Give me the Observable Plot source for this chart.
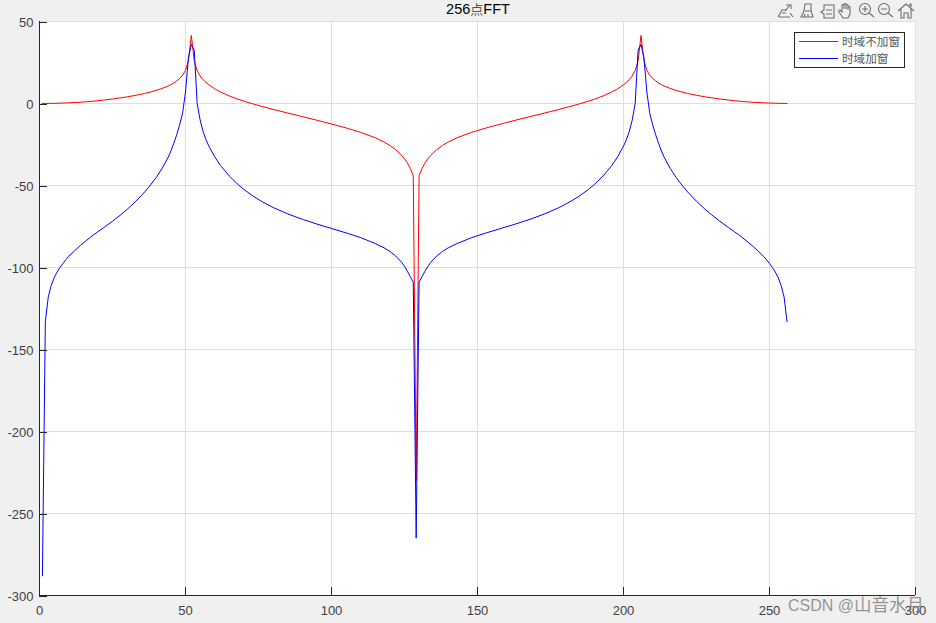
<!DOCTYPE html>
<html lang="zh">
<head>
<meta charset="utf-8">
<script src="https://cdn.jsdelivr.net/npm/d3@7"></script>
<script src="https://cdn.jsdelivr.net/npm/@observablehq/plot@0.6"></script>
<style>
html,body{margin:0;padding:0;background:#f0f0f0;width:936px;height:623px;overflow:hidden}
#wrap{position:relative;width:936px;height:623px}
#wrap svg.plot{position:absolute;left:0;top:0;background:transparent;display:block}
#title{position:absolute;left:378px;width:200px;top:0;text-align:center;font:14.5px/18px "Liberation Sans","Noto Sans CJK SC",sans-serif;color:#000}
#title span{color:#555;font-size:13px}
#legend{position:absolute;left:794px;top:32px;width:109px;height:34px;border:1px solid #262626;background:#fff}
.row{position:absolute;left:4px;height:17px;font:11.6px/17px "Noto Sans CJK SC",sans-serif;color:#555;white-space:nowrap}
.row i{display:inline-block;width:39px;height:0;border-top:1px solid;vertical-align:middle;margin-right:4px;position:relative;top:-1px}
#mark{position:absolute;left:788px;top:594px;font:16px/22px "Liberation Sans","Noto Sans CJK SC",sans-serif;color:rgba(110,110,110,.72);white-space:nowrap}
#mark span{font-size:17.5px}
#tools{position:absolute;left:775px;top:0;width:140px;height:22px}
</style>
</head>
<body>
<div id="wrap">
  <div id="chart"></div>
  <div id="title">256<span>点</span>FFT</div>
  <div id="legend">
    <div class="row" style="top:0"><i style="color:#f00"></i>时域不加窗</div>
    <div class="row" style="top:17px"><i style="color:#00f"></i>时域加窗</div>
  </div>
  <svg id="tools" viewBox="775 0 140 22" fill="none" stroke="#6e6e6e" stroke-width="1.1">
    <path d="M778 17 l4-7 h5 M779 17 h11 M785 11 l5-6 M786 5 h5 v4 M790 13 l3 4 M782 13 l4 0"/>
    <path d="M805 4 h6 v7 l2 6 h-12 l3-6z M805 11 h6 M804 17 l1-3 M808 17 l0-3"/>
    <path d="M824 5 h10 v13 h-10 v-4 l-3-2 3-2z M826 10 h6 M826 14 h6"/>
    <path d="M843 18 l-4-6 q-1-2 1-2 l2 2 v-7 q1-1 2 0 v4 v-5 q1-1 2 0 v5 v-4 q1-1 2 0 v5 v-3 q1-1 2 0 v7 l-2 4z"/>
    <circle cx="865" cy="9" r="5.5"/><path d="M869 13 l5 4 M862 9 h6 M865 6 v6"/>
    <circle cx="884" cy="9" r="5.5"/><path d="M888 13 l5 4 M881 9 h6"/>
    <path d="M898 11 l8-7 8 7 M901 9 v9 h3 v-5 h4 v5 h3 v-9 M910 6 v-2 h1 v3"/>
  </svg>
  <div id="mark">CSDN @<span>山音水月</span></div>
</div>
<script>
const bins = [
  1,2,3,4,5,6,7,8,9,10,12,14,16,18,20,22,25,28,30,33,36,38,40,42,44,45,46,47,48,49,
  50,51,52,53,54,55,56,57,58,60,62,65,68,70,73,76,80,85,90,95,100,105,110,115,118,120,122,124,125,126,127,128,129,
  130,131,132,133,134,136,138,140,143,148,153,158,163,168,173,178,182,185,188,190,193,196,198,200,201,202,203,204,205,
  206,207,208,209,210,211,212,213,214,216,218,220,222,225,228,230,233,236,238,240,242,244,246,248,249,250,251,252,253,254,255,256
];
const noWindowDb = [
  0,0.02,0.05,0.08,0.12,0.17,0.22,0.28,0.35,0.42,0.6,0.8,1.05,1.35,1.7,2.1,2.75,3.5,4.05,5,6.1,7,8,9.2,10.6,11.5,12.5,13.8,15.3,17.3,
  20.2,26,41.5,26,20,16.8,14.6,12.9,11.4,9,7,4.6,2.6,1.4,-0.2,-1.7,-3.6,-5.8,-8,-10.2,-12.5,-14.9,-17.6,-20.9,-23.5,-25.6,-28.2,-31.6,-33.7,-36.3,-39.6,-44,-230,
  -44,-39.6,-36.3,-33.7,-31.6,-28.2,-25.6,-23.5,-20.9,-17.6,-14.9,-12.5,-10.2,-8,-5.8,-3.6,-1.7,-0.2,1.4,2.6,4.6,7,9,11.4,12.9,14.6,16.8,20,26,
  41.5,26,20.2,17.3,15.3,13.8,12.5,11.5,10.6,9.2,8,7,6.1,5,4.05,3.5,2.75,2.1,1.7,1.35,1.05,0.8,0.6,0.42,0.35,0.28,0.22,0.17,0.12,0.08,0.05,0.02
];
const windowedDb = [
  -288,-133,-118,-111,-106.3,-102.8,-100,-97.6,-95.3,-93.2,-89.8,-86.6,-83.6,-80.8,-78.2,-75.7,-71.8,-67.6,-64.6,-59.6,-54,-49.7,-45,-39.6,-33,-29,-24.2,-19,-13,-6,
  7,28,36,32.5,0,-10,-17,-22,-26,-32.5,-37.8,-44.2,-49.4,-52.4,-56.3,-59.6,-63.4,-67.3,-70.6,-73.5,-76.2,-78.9,-81.8,-85.4,-88,-90.2,-93,-96.8,-99.3,-102.3,-105.6,-109,-265,
  -109,-105.6,-102.3,-99.3,-96.8,-93,-90.2,-88,-85.4,-81.8,-78.9,-76.2,-73.5,-70.6,-67.3,-63.4,-59.6,-56.3,-52.4,-49.4,-44.2,-37.8,-32.5,-26,-22,-17,-10,0,32.5,
  36,28,7,-6,-13,-19,-24.2,-29,-33,-39.6,-45,-49.7,-54,-59.6,-64.6,-67.6,-71.8,-75.7,-78.2,-80.8,-83.6,-86.6,-89.8,-93.2,-95.3,-97.6,-100,-102.8,-106.3,-111,-118,-133
];
const xTicks = [0,50,100,150,200,250,300];
const yTicks = [50,0,-50,-100,-150,-200,-250,-300];

const table = (ys) => bins.map((x,i)=>({x, y:ys[i]}));
const axisFont = {fontSize:13, fontFamily:'"Liberation Sans",Arial,sans-serif', fill:"#404040"};

const chart = Plot.plot({
  width:936, height:623,
  marginLeft:39, marginRight:21, marginTop:21, marginBottom:28,
  style:{background:"transparent", overflow:"visible"},
  x:{domain:[0,300], label:null},
  y:{domain:[-300,50], label:null},
  marks:[
    Plot.frame({fill:"#fff", stroke:"#dedede"}),
    Plot.gridX(xTicks,{stroke:"#dedede", strokeOpacity:1}),
    Plot.gridY(yTicks,{stroke:"#dedede", strokeOpacity:1}),
    Plot.line(table(noWindowDb),{x:"x", y:"y", stroke:"#ff0000", strokeWidth:1}),
    Plot.line(table(windowedDb),{x:"x", y:"y", stroke:"#0000ff", strokeWidth:1}),
    Plot.ruleX([0],{stroke:"#262626"}),
    Plot.ruleY([-300],{stroke:"#262626"}),
    Plot.axisX(xTicks,{anchor:"bottom", tickSize:-8, tickPadding:18, stroke:"#262626", tickFormat:d=>String(d), label:null, ...axisFont}),
    Plot.axisY(yTicks,{anchor:"left", tickSize:-8, tickPadding:14, stroke:"#262626", tickFormat:d=>String(d), label:null, dy:1, ...axisFont})
  ]
});
document.getElementById("chart").appendChild(chart);
</script>
</body>
</html>
